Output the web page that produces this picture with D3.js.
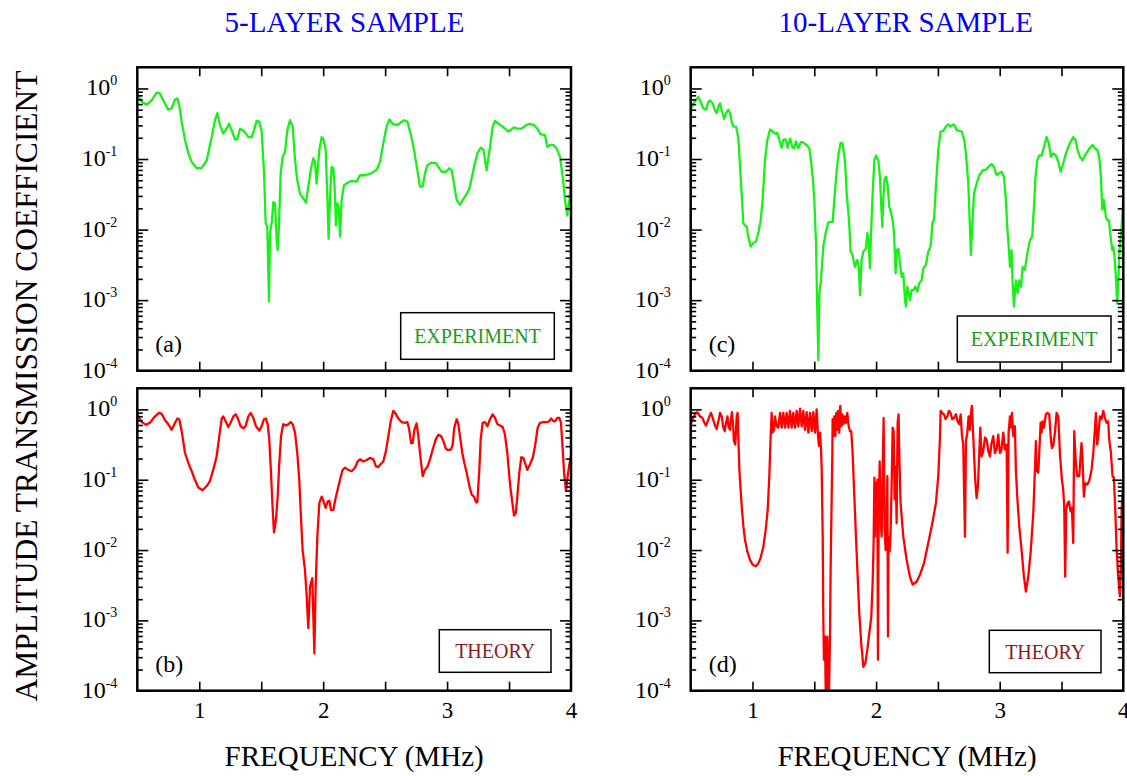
<!DOCTYPE html>
<html>
<head>
<meta charset="utf-8">
<script src="https://cdn.jsdelivr.net/npm/d3@7"></script>
<style>
  body { margin: 0; background: #fff; }
  svg { display: block; font-family: "Liberation Serif", "Times New Roman", serif; }
</style>
</head>
<body>
<div id="chart"></div>
<script>
// Frequencies (MHz) and log10 of the amplitude transmission

// (a) 5 layers, experiment
const freqA = [0.500,0.535,0.575,0.616,0.656,0.683,0.710,0.750,0.777,0.804,
  0.823,0.839,0.858,0.885,0.912,0.939,0.979,1.019,1.060,1.100,
  1.127,1.146,1.167,1.194,1.221,1.240,1.261,1.288,1.307,1.329,
  1.350,1.372,1.396,1.423,1.442,1.463,1.485,1.503,1.522,1.536,
  1.549,1.563,1.571,1.587,1.598,1.611,1.625,1.633,1.643,1.657,
  1.673,1.692,1.711,1.732,1.754,1.773,1.791,1.813,1.840,1.861,
  1.880,1.899,1.920,1.934,1.947,1.955,1.969,1.988,2.001,2.020,
  2.033,2.044,2.055,2.068,2.082,2.095,2.103,2.114,2.125,2.136,
  2.149,2.168,2.195,2.230,2.270,2.297,2.337,2.391,2.432,2.459,
  2.485,2.512,2.534,2.561,2.593,2.620,2.652,2.679,2.706,2.733,
  2.760,2.781,2.803,2.822,2.841,2.876,2.911,2.929,2.956,2.991,
  3.018,3.037,3.056,3.077,3.104,3.126,3.153,3.180,3.212,3.244,
  3.271,3.293,3.319,3.346,3.368,3.387,3.414,3.441,3.467,3.494,
  3.513,3.540,3.567,3.602,3.637,3.669,3.701,3.728,3.755,3.790,
  3.809,3.831,3.857,3.884,3.911,3.933,3.952,3.970,3.987,4.000]
const expA = [-0.07,-0.19,-0.23,-0.17,-0.06,-0.07,-0.17,-0.30,-0.28,-0.16,
  -0.14,-0.24,-0.47,-0.73,-0.92,-1.04,-1.13,-1.13,-1.02,-0.69,
  -0.45,-0.35,-0.52,-0.64,-0.57,-0.50,-0.59,-0.72,-0.72,-0.57,
  -0.59,-0.63,-0.69,-0.69,-0.59,-0.46,-0.47,-0.61,-1.16,-1.91,
  -1.96,-3.02,-2.05,-1.87,-1.61,-1.63,-2.15,-2.29,-1.96,-1.20,
  -0.97,-0.90,-0.59,-0.45,-0.54,-1.02,-1.30,-1.49,-1.56,-1.62,
  -1.39,-1.16,-0.99,-1.04,-1.35,-1.18,-0.87,-0.69,-0.71,-0.87,
  -1.49,-2.13,-1.58,-1.11,-1.13,-1.49,-1.94,-1.63,-1.68,-2.10,
  -1.58,-1.37,-1.34,-1.31,-1.32,-1.23,-1.23,-1.20,-1.15,-1.04,
  -0.78,-0.54,-0.44,-0.50,-0.52,-0.49,-0.45,-0.47,-0.64,-0.87,
  -1.16,-1.39,-1.39,-1.20,-1.09,-1.05,-1.06,-1.11,-1.18,-1.18,
  -1.13,-1.16,-1.35,-1.58,-1.65,-1.58,-1.51,-1.42,-1.16,-0.92,
  -0.84,-0.86,-1.16,-0.83,-0.54,-0.46,-0.50,-0.53,-0.57,-0.61,
  -0.59,-0.55,-0.57,-0.57,-0.52,-0.50,-0.52,-0.57,-0.65,-0.66,
  -0.83,-0.80,-0.80,-0.85,-0.97,-1.25,-1.58,-1.80,-1.58,-1.30]

// (b) 5 layers, theory
const freqB = [0.500,0.535,0.570,0.602,0.637,0.675,0.696,0.723,0.750,0.777,
  0.799,0.823,0.839,0.858,0.885,0.912,0.939,0.965,0.992,1.027,
  1.060,1.086,1.113,1.140,1.162,1.181,1.194,1.213,1.234,1.253,
  1.275,1.294,1.310,1.334,1.356,1.374,1.396,1.415,1.436,1.458,
  1.485,1.503,1.522,1.538,1.552,1.565,1.579,1.590,1.603,1.619,
  1.633,1.646,1.660,1.678,1.700,1.719,1.738,1.754,1.773,1.791,
  1.807,1.818,1.834,1.853,1.867,1.880,1.894,1.912,1.929,1.939,
  1.953,1.969,1.988,2.007,2.020,2.036,2.050,2.063,2.082,2.098,
  2.117,2.136,2.157,2.176,2.203,2.230,2.257,2.278,2.297,2.324,
  2.351,2.378,2.405,2.426,2.445,2.464,2.485,2.507,2.526,2.545,
  2.566,2.588,2.607,2.633,2.655,2.679,2.695,2.709,2.722,2.736,
  2.754,2.768,2.787,2.803,2.822,2.843,2.862,2.884,2.908,2.929,
  2.951,2.970,2.991,3.010,3.032,3.045,3.058,3.077,3.091,3.104,
  3.123,3.139,3.158,3.180,3.198,3.217,3.233,3.244,3.260,3.271,
  3.287,3.306,3.325,3.346,3.368,3.387,3.406,3.427,3.449,3.467,
  3.486,3.502,3.513,3.527,3.540,3.554,3.567,3.583,3.599,3.615,
  3.629,3.648,3.669,3.691,3.710,3.731,3.750,3.777,3.804,3.823,
  3.839,3.852,3.871,3.890,3.906,3.919,3.933,3.944,3.960,3.973,
  3.987,4.000]
const expB = [-0.07,-0.18,-0.22,-0.19,-0.11,-0.05,-0.06,-0.15,-0.21,-0.29,
  -0.21,-0.13,-0.14,-0.31,-0.62,-0.76,-0.88,-1.00,-1.11,-1.15,
  -1.09,-1.02,-0.86,-0.67,-0.38,-0.13,-0.10,-0.17,-0.25,-0.19,
  -0.10,-0.07,-0.12,-0.24,-0.27,-0.24,-0.10,-0.05,-0.12,-0.24,
  -0.30,-0.24,-0.14,-0.13,-0.21,-0.43,-0.90,-1.33,-1.75,-1.57,
  -1.24,-0.76,-0.38,-0.21,-0.23,-0.21,-0.18,-0.21,-0.33,-0.62,
  -1.00,-1.43,-2.00,-2.28,-2.66,-3.11,-2.52,-2.40,-3.47,-2.52,
  -1.81,-1.33,-1.24,-1.33,-1.40,-1.31,-1.30,-1.43,-1.43,-1.28,
  -1.14,-1.00,-0.86,-0.83,-0.86,-0.88,-0.83,-0.74,-0.71,-0.74,
  -0.72,-0.69,-0.71,-0.81,-0.82,-0.78,-0.74,-0.59,-0.38,-0.17,
  -0.02,-0.07,-0.13,-0.18,-0.19,-0.18,-0.29,-0.48,-0.48,-0.29,
  -0.20,-0.38,-0.71,-0.95,-0.86,-0.81,-0.71,-0.57,-0.43,-0.36,
  -0.38,-0.45,-0.56,-0.58,-0.57,-0.50,-0.26,-0.14,-0.21,-0.38,
  -0.62,-0.76,-0.90,-1.09,-1.21,-1.24,-1.32,-1.32,-0.86,-0.43,
  -0.19,-0.18,-0.24,-0.14,-0.07,-0.12,-0.21,-0.23,-0.25,-0.36,
  -0.62,-0.95,-1.14,-1.33,-1.51,-1.48,-1.24,-0.90,-0.68,-0.69,
  -0.76,-0.86,-0.78,-0.69,-0.52,-0.26,-0.19,-0.18,-0.18,-0.17,
  -0.13,-0.16,-0.17,-0.12,-0.12,-0.19,-0.57,-0.90,-1.16,-0.95,
  -0.78,-0.66]

// (c) 10 layers, experiment
const freqC = [0.500,0.522,0.543,0.562,0.581,0.602,0.624,0.643,0.656,0.678,
  0.697,0.710,0.724,0.737,0.751,0.770,0.786,0.805,0.818,0.832,
  0.845,0.867,0.886,0.899,0.912,0.926,0.939,0.953,0.966,0.985,
  1.007,1.028,1.047,1.066,1.082,1.101,1.120,1.142,1.163,1.182,
  1.201,1.217,1.236,1.249,1.268,1.285,1.303,1.322,1.336,1.352,
  1.371,1.390,1.406,1.419,1.438,1.460,1.473,1.487,1.500,1.514,
  1.524,1.533,1.541,1.554,1.573,1.592,1.613,1.635,1.648,1.662,
  1.681,1.697,1.713,1.729,1.748,1.762,1.781,1.794,1.810,1.829,
  1.848,1.861,1.870,1.883,1.897,1.918,1.929,1.940,1.950,1.959,
  1.972,1.986,1.999,2.018,2.031,2.042,2.050,2.058,2.069,2.080,
  2.093,2.107,2.120,2.134,2.145,2.158,2.166,2.180,2.193,2.207,
  2.220,2.234,2.242,2.252,2.263,2.274,2.287,2.301,2.317,2.333,
  2.349,2.368,2.382,2.403,2.422,2.441,2.457,2.468,2.484,2.503,
  2.522,2.544,2.565,2.584,2.603,2.624,2.638,2.651,2.673,2.692,
  2.711,2.727,2.746,2.759,2.767,2.778,2.792,2.813,2.835,2.862,
  2.889,2.916,2.934,2.953,2.975,2.994,3.015,3.034,3.050,3.061,
  3.075,3.083,3.096,3.104,3.115,3.123,3.131,3.145,3.158,3.172,
  3.185,3.204,3.223,3.245,3.263,3.277,3.290,3.304,3.320,3.339,
  3.358,3.379,3.398,3.414,3.433,3.455,3.474,3.493,3.514,3.536,
  3.555,3.573,3.595,3.614,3.630,3.649,3.670,3.689,3.708,3.730,
  3.751,3.770,3.789,3.805,3.819,3.830,3.843,3.859,3.873,3.884,
  3.897,3.910,3.919,3.929,3.940,3.951,3.962,3.972,3.986,4.000]
const expC = [-0.30,-0.21,-0.16,-0.12,-0.19,-0.28,-0.30,-0.19,-0.17,-0.21,
  -0.31,-0.35,-0.26,-0.21,-0.31,-0.43,-0.35,-0.30,-0.35,-0.47,
  -0.54,-0.54,-0.71,-1.11,-1.49,-1.91,-1.94,-1.96,-2.10,-2.24,
  -2.19,-2.17,-2.05,-1.87,-1.58,-1.02,-0.73,-0.58,-0.61,-0.64,
  -0.63,-0.73,-0.84,-0.73,-0.72,-0.84,-0.71,-0.83,-0.85,-0.75,
  -0.85,-0.76,-0.76,-0.78,-0.80,-0.85,-1.02,-1.25,-1.58,-2.20,
  -3.14,-3.85,-2.90,-2.72,-2.24,-2.05,-1.90,-1.89,-1.89,-1.58,
  -1.16,-0.92,-0.77,-0.78,-1.02,-1.49,-1.87,-2.31,-2.36,-2.53,
  -2.43,-2.55,-2.93,-2.43,-2.31,-2.27,-2.05,-2.17,-2.55,-2.05,
  -1.49,-1.02,-0.95,-1.02,-1.25,-1.68,-1.96,-1.58,-1.28,-1.25,
  -1.37,-1.68,-1.75,-1.87,-2.05,-2.62,-2.29,-2.27,-2.48,-2.67,
  -2.62,-3.00,-3.09,-2.81,-2.90,-3.00,-2.86,-2.86,-2.81,-2.88,
  -2.76,-2.72,-2.55,-2.50,-2.31,-2.24,-1.89,-1.87,-1.39,-0.87,
  -0.61,-0.60,-0.54,-0.51,-0.54,-0.51,-0.53,-0.59,-0.60,-0.61,
  -0.71,-0.92,-1.35,-1.96,-2.36,-1.96,-1.49,-1.35,-1.23,-1.16,
  -1.15,-1.10,-1.07,-1.11,-1.23,-1.20,-1.18,-1.25,-1.58,-1.96,
  -2.29,-2.53,-2.29,-2.72,-3.09,-2.90,-2.72,-2.90,-2.72,-2.81,
  -2.53,-2.57,-2.34,-2.15,-2.10,-1.68,-1.25,-1.02,-0.95,-0.95,
  -0.83,-0.69,-0.78,-0.97,-0.92,-0.95,-1.04,-1.18,-1.06,-0.92,
  -0.83,-0.76,-0.69,-0.73,-0.87,-0.97,-1.02,-0.95,-0.90,-0.84,
  -0.80,-0.85,-0.87,-0.97,-1.25,-1.72,-1.58,-1.82,-1.87,-1.87,
  -2.10,-2.29,-2.24,-2.39,-2.67,-3.05,-2.62,-2.24,-1.96,-1.54]

// (d) 10 layers, theory
const freqD = [0.500,0.516,0.535,0.554,0.575,0.594,0.611,0.624,0.637,0.651,
  0.664,0.678,0.697,0.710,0.724,0.737,0.751,0.764,0.775,0.786,
  0.797,0.807,0.818,0.826,0.834,0.842,0.850,0.861,0.872,0.880,
  0.886,0.894,0.904,0.915,0.926,0.939,0.958,0.980,1.001,1.026,
  1.047,1.066,1.088,1.107,1.123,1.136,1.147,1.155,1.163,1.174,
  1.182,1.196,1.209,1.223,1.236,1.249,1.263,1.276,1.290,1.303,
  1.317,1.330,1.344,1.357,1.371,1.384,1.398,1.411,1.425,1.438,
  1.452,1.465,1.479,1.492,1.506,1.519,1.530,1.538,1.546,1.554,
  1.560,1.568,1.573,1.578,1.586,1.595,1.605,1.616,1.627,1.632,
  1.640,1.646,1.648,1.654,1.662,1.670,1.678,1.686,1.694,1.702,
  1.710,1.719,1.727,1.735,1.746,1.756,1.767,1.778,1.789,1.799,
  1.810,1.824,1.837,1.851,1.864,1.880,1.897,1.913,1.929,1.945,
  1.961,1.972,1.980,1.986,1.991,1.999,2.004,2.010,2.015,2.021,
  2.029,2.037,2.045,2.053,2.061,2.069,2.077,2.083,2.091,2.096,
  2.101,2.110,2.118,2.126,2.134,2.142,2.150,2.158,2.166,2.174,
  2.182,2.188,2.198,2.220,2.247,2.274,2.296,2.328,2.355,2.387,
  2.422,2.455,2.484,2.503,2.517,2.522,2.535,2.549,2.562,2.576,
  2.589,2.603,2.616,2.630,2.646,2.660,2.673,2.684,2.695,2.705,
  2.719,2.727,2.738,2.748,2.759,2.767,2.775,2.781,2.792,2.802,
  2.813,2.824,2.835,2.843,2.854,2.867,2.881,2.894,2.908,2.921,
  2.934,2.948,2.961,2.975,2.988,3.002,3.015,3.029,3.042,3.056,
  3.064,3.072,3.083,3.091,3.099,3.110,3.123,3.131,3.142,3.158,
  3.177,3.196,3.212,3.231,3.250,3.272,3.285,3.293,3.298,3.312,
  3.320,3.331,3.339,3.347,3.358,3.374,3.387,3.401,3.412,3.422,
  3.433,3.447,3.460,3.474,3.487,3.503,3.514,3.522,3.530,3.538,
  3.549,3.560,3.573,3.584,3.595,3.603,3.614,3.627,3.644,3.654,
  3.662,3.670,3.681,3.692,3.708,3.724,3.743,3.757,3.770,3.778,
  3.789,3.797,3.811,3.824,3.838,3.851,3.865,3.878,3.886,3.900,
  3.913,3.924,3.935,3.946,3.959,3.972,3.980,3.986,4.000]
const expD = [-0.21,-0.14,-0.07,-0.04,-0.10,-0.12,-0.19,-0.23,-0.17,-0.10,
  -0.05,-0.12,-0.23,-0.28,-0.17,-0.05,-0.10,-0.26,-0.31,-0.19,
  -0.10,-0.24,-0.29,-0.14,-0.04,-0.19,-0.45,-0.50,-0.10,-0.05,
  -0.43,-0.86,-1.14,-1.43,-1.66,-1.85,-2.02,-2.14,-2.21,-2.23,
  -2.19,-2.11,-1.95,-1.71,-1.43,-0.95,-0.38,-0.05,-0.33,-0.29,
  -0.10,-0.24,-0.26,-0.05,-0.26,-0.05,-0.26,-0.05,-0.26,-0.02,
  -0.26,-0.05,-0.26,-0.02,-0.24,0.01,-0.24,-0.02,-0.29,-0.04,
  -0.33,-0.05,-0.31,-0.04,-0.33,0.00,-0.38,-0.52,-0.33,-0.55,
  -0.86,-1.81,-2.99,-3.56,-3.23,-4.30,-3.23,-4.30,-3.23,-2.28,
  -1.33,-0.62,-0.14,-0.38,-0.10,-0.38,-0.05,-0.29,-0.02,-0.33,
  0.05,-0.24,-0.07,-0.21,-0.10,-0.19,-0.05,-0.24,-0.31,-0.31,
  -0.62,-1.24,-1.81,-2.38,-2.90,-3.33,-3.66,-3.61,-3.42,-3.18,
  -2.95,-2.47,-1.90,-0.97,-1.81,-1.05,-1.71,-1.00,-3.56,-1.43,
  -0.74,-1.57,-1.81,-0.86,-0.12,-1.71,-2.00,-1.81,-0.95,-3.23,
  -1.81,-2.02,-1.71,-1.05,-0.26,-0.31,-1.28,-0.81,-1.62,-0.19,
  -0.07,-0.67,-1.33,-1.81,-2.14,-2.38,-2.49,-2.45,-2.35,-2.19,
  -1.90,-1.62,-1.33,-0.95,-0.38,-0.02,-0.05,-0.07,-0.14,-0.10,
  -0.02,-0.05,-0.14,-0.12,-0.07,-0.17,-0.21,-0.07,-0.38,-0.50,
  -1.81,-0.45,-0.33,-0.10,-0.29,-0.05,0.05,-0.19,-0.62,-1.00,
  -1.26,-1.09,-0.62,-0.26,-0.67,-0.59,-0.40,-0.43,-0.59,-0.67,
  -0.48,-0.38,-0.62,-0.57,-0.36,-0.62,-0.57,-0.33,-0.57,-0.50,
  -2.04,-0.33,-0.10,-0.26,-0.05,-0.38,-0.24,-0.86,-1.24,-1.66,
  -2.00,-2.38,-2.59,-2.38,-2.04,-1.47,-0.86,-0.45,-0.86,-0.90,
  -0.62,-0.19,-0.33,-0.17,-0.26,-0.07,-0.05,-0.07,-0.38,-0.55,
  -0.52,-0.33,-0.05,-0.10,-0.62,-1.00,-1.14,-1.38,-2.38,-1.43,
  -1.33,-1.31,-1.45,-1.40,-1.90,-0.31,-0.71,-0.95,-0.95,-0.67,
  -0.48,-0.71,-1.24,-1.05,-1.07,-1.02,-0.86,-0.62,-0.29,-0.05,
  -0.50,-0.38,-0.10,-0.14,-0.02,-0.12,-0.19,-0.17,-0.43,-0.62,
  -0.95,-0.97,-1.43,-2.00,-2.38,-2.66,-2.28,-1.43,-1.00]

const columnTitles = ["5-LAYER SAMPLE", "10-LAYER SAMPLE"]
const panelTags = ["(a)", "(b)", "(c)", "(d)"]
const boxLabels = ["EXPERIMENT", "THEORY"]
const xTickValues = [1, 1.5, 2, 2.5, 3, 3.5]
const xLabelValues = [1, 2, 3, 4]
const yDecades = [0, -1, -2, -3, -4]
const yLabel = "AMPLITUDE TRANSMISSION COEFFICIENT"
const xLabel = "FREQUENCY (MHz)"

// Layout
const W = 1127, H = 776
const cols = [[137.3, 571], [690.7, 1123.3]]
const rows = [[67.3, 370.7], [388.3, 690.7]]
const lineGreen = "#18f018", lineRed = "#ff0000"
const textGreen = "#1e9a1e", textRed = "#8b1a1a"
const serif = '"Liberation Serif", "Times New Roman", serif'

const panels = [
  {col: 0, row: 0, f: freqA, e: expA, color: lineGreen, tag: panelTags[0],
    label: boxLabels[0], labelColor: textGreen, box: [400.7, 312.7, 153.6, 46.6]},
  {col: 0, row: 1, f: freqB, e: expB, color: lineRed, tag: panelTags[1],
    label: boxLabels[1], labelColor: textRed, box: [439.3, 629.7, 111.7, 42.6]},
  {col: 1, row: 0, f: freqC, e: expC, color: lineGreen, tag: panelTags[2],
    label: boxLabels[0], labelColor: textGreen, box: [957.3, 316, 153.7, 46]},
  {col: 1, row: 1, f: freqD, e: expD, color: lineRed, tag: panelTags[3],
    label: boxLabels[1], labelColor: textRed, box: [989.3, 630.3, 111.7, 42.4]}
]

const svg = d3.select("#chart").append("svg")
  .attr("width", W)
  .attr("height", H)

// minor ticks 2..9 per decade
const minorTicks = []
yDecades.slice(1).forEach(k => {
  for (let m = 2; m <= 9; m++) minorTicks.push(m * Math.pow(10, k))
})
const majorTicks = yDecades.map(k => Math.pow(10, k))

panels.forEach((p, i) => {
  const [x0, x1] = cols[p.col]
  const [y0, y1] = rows[p.row]

  const x = d3.scaleLinear().domain([0.5, 4]).range([x0, x1])
  const y = d3.scaleLog().domain([1e-4, Math.pow(10, 0.3)]).range([y1, y0])

  const g = svg.append("g").attr("class", "panel")

  // clip the curve to the frame
  g.append("clipPath").attr("id", "clip" + i)
    .append("rect")
    .attr("x", x0).attr("y", y0)
    .attr("width", x1 - x0).attr("height", y1 - y0)

  const pts = p.f.map((f, j) => [f, Math.pow(10, p.e[j])])
  const line = d3.line().x(d => x(d[0])).y(d => y(d[1]))

  g.append("path")
    .datum(pts)
    .attr("clip-path", `url(#clip${i})`)
    .attr("fill", "none")
    .attr("stroke", p.color)
    .attr("stroke-width", 2.3)
    .attr("stroke-linejoin", "round")
    .attr("d", line)

  // Y axes, ticks pointing inwards on both sides
  function yTicks(axis, vals, size, tx) {
    const a = g.append("g")
      .attr("transform", `translate(${tx},0)`)
      .call(axis(y).tickValues(vals).tickSize(-size).tickFormat(""))
    a.select(".domain").remove()
    a.selectAll(".tick line").attr("stroke", "#000").attr("stroke-width", 1.6)
  }
  yTicks(d3.axisLeft, majorTicks, 11, x0)
  yTicks(d3.axisLeft, minorTicks, 5.5, x0)
  yTicks(d3.axisRight, majorTicks, 11, x1)
  yTicks(d3.axisRight, minorTicks, 5.5, x1)

  // X axes, ticks inwards top and bottom
  function xTicks(axis, ty) {
    const a = g.append("g")
      .attr("transform", `translate(0,${ty})`)
      .call(axis(x).tickValues(xTickValues).tickSize(-9).tickFormat(""))
    a.select(".domain").remove()
    a.selectAll(".tick line").attr("stroke", "#000").attr("stroke-width", 1.6)
  }
  xTicks(d3.axisTop, y0)
  xTicks(d3.axisBottom, y1)

  // decade labels 10^k
  const lab = g.append("g")
    .selectAll("text")
    .data(yDecades)
    .join("text")
    .attr("x", x0 - 20)
    .attr("y", k => y(Math.pow(10, k)) + 7)
    .attr("text-anchor", "end")
    .attr("font-size", 24)
    .attr("fill", "#000")
  lab.append("tspan").text("10")
  lab.append("tspan")
    .attr("dy", -10)
    .attr("font-size", 14)
    .text(k => k)

  // frequency labels under the lower row
  if (p.row === 1) {
    const xa = g.append("g")
      .attr("transform", `translate(0,${y1})`)
      .call(d3.axisBottom(x).tickValues(xLabelValues).tickSize(0).tickPadding(11).tickFormat(d3.format("d")))
    xa.select(".domain").remove()
    xa.attr("font-family", serif).attr("font-size", 23)
    xa.selectAll("text").attr("fill", "#000")
  }

  // frame
  g.append("rect")
    .attr("x", x0).attr("y", y0)
    .attr("width", x1 - x0).attr("height", y1 - y0)
    .attr("fill", "none")
    .attr("stroke", "#000")
    .attr("stroke-width", 2.5)

  // panel tag
  g.append("text")
    .attr("x", x0 + 18)
    .attr("y", y1 - 18.5)
    .attr("font-size", 24)
    .text(p.tag)

  // legend box
  const [bx, by, bw, bh] = p.box
  g.append("rect")
    .attr("x", bx).attr("y", by)
    .attr("width", bw).attr("height", bh)
    .attr("fill", "#fff")
    .attr("stroke", "#000")
    .attr("stroke-width", 1.5)
  g.append("text")
    .attr("x", bx + bw / 2)
    .attr("y", by + bh / 2 + 7)
    .attr("text-anchor", "middle")
    .attr("font-size", 20)
    .attr("fill", p.labelColor)
    .text(p.label)
})

// column titles
svg.selectAll(".col-title")
  .data(columnTitles)
  .join("text")
  .attr("class", "col-title")
  .attr("x", (d, i) => [344.5, 905.7][i])
  .attr("y", 32.3)
  .attr("text-anchor", "middle")
  .attr("font-size", 29)
  .attr("fill", "#0000ff")
  .text(d => d)

// x axis titles
svg.selectAll(".x-title")
  .data(cols)
  .join("text")
  .attr("class", "x-title")
  .attr("x", d => (d[0] + d[1]) / 2)
  .attr("y", 765.7)
  .attr("text-anchor", "middle")
  .attr("font-size", 29)
  .attr("fill", "#000")
  .text(xLabel)

// y axis title
svg.append("text")
  .attr("transform", "translate(37,386) rotate(-90)")
  .attr("text-anchor", "middle")
  .attr("font-size", 31.5)
  .attr("fill", "#000")
  .text(yLabel)
</script>
</body>
</html>
